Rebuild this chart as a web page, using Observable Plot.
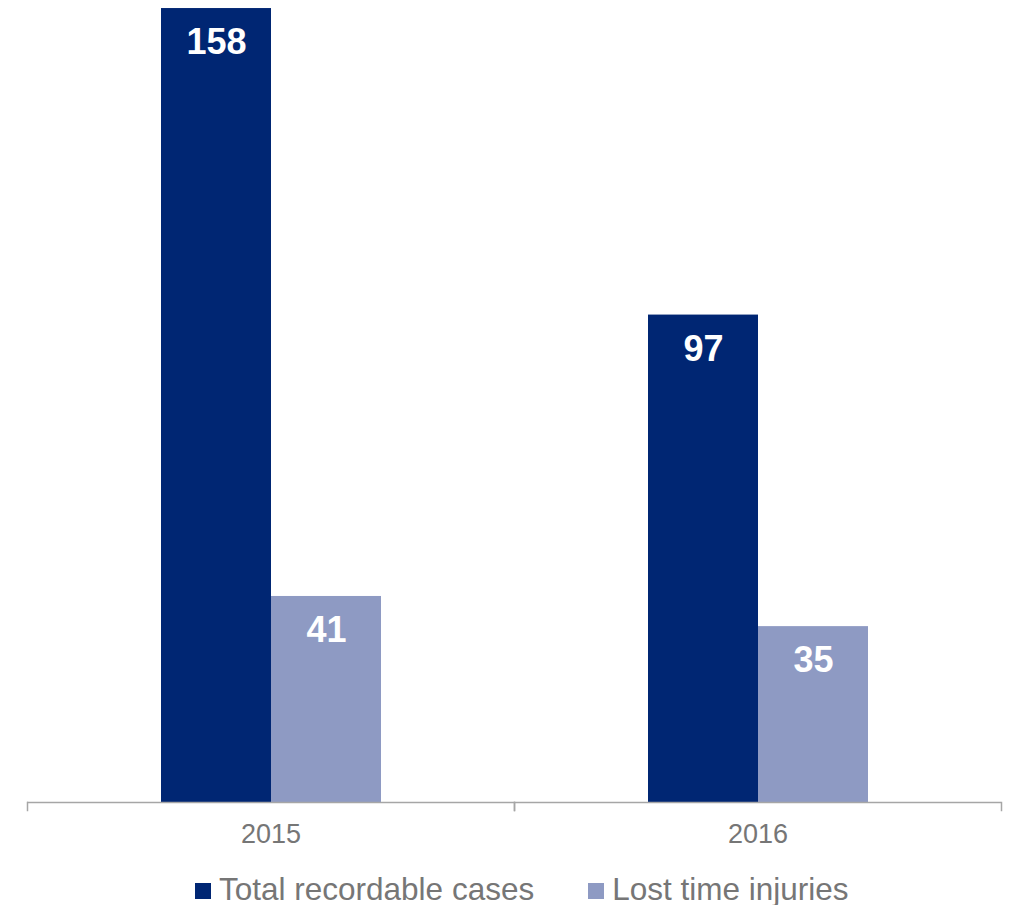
<!DOCTYPE html>
<html>
<head>
<meta charset="utf-8">
<script src="https://cdn.jsdelivr.net/npm/d3@7"></script>
<script src="https://cdn.jsdelivr.net/npm/@observablehq/plot@0.6"></script>
<style>
  body { margin: 0; background: #fff; font-family: "Liberation Sans", Arial, sans-serif; }
  #legend { display: flex; align-items: center; height: 31px; margin-top: 14px; padding-left: 195px;
            font-size: 31.5px; color: #767676; line-height: 31px; }
  .item { display: flex; align-items: center; }
  .sw { width: 16px; height: 16px; margin-right: 8px; position: relative; top: 1px; }
</style>
</head>
<body>
<div id="chart"></div>
<div id="legend"></div>
<script>
const years = ["2015", "2016"];
const series = ["Total recordable cases", "Lost time injuries"];
const totalRecordable = [158, 97];
const lostTime = [41, 35];
const colors = ["#002673", "#8E9AC3"];

const data = [];
years.forEach((y, i) => {
  data.push({year: y, series: series[0], value: totalRecordable[i]});
  data.push({year: y, series: series[1], value: lostTime[i]});
});

const W = 1015, H = 860, mB = 58, mT = 0;
const chart = Plot.plot({
  width: W, height: H,
  marginLeft: 26, marginRight: 14, marginTop: mT, marginBottom: mB,
  style: {fontFamily: "Liberation Sans, Arial, sans-serif", background: "#fff"},
  fx: {domain: years, padding: 0, label: null, axis: "bottom", tickSize: 0, tickPadding: 21},
  x: {domain: series, paddingInner: 0, paddingOuter: 1.196, axis: null},
  y: {domain: [0, 159.6], axis: null},
  color: {domain: series, range: colors},
  marks: [
    Plot.barY(data, {fx: "year", x: "series", y: "value", fill: "series"}),
    Plot.text(data, {fx: "year", x: "series", y: "value", text: d => String(d.value),
      dy: 34, fill: "white", fontWeight: "bold", fontSize: 36}),
    Plot.ruleY([0], {stroke: "#A6A6A6", strokeWidth: 1.5}),
    Plot.frame({anchor: "left", stroke: "#A6A6A6", strokeWidth: 1.5, insetTop: H - mB - mT, insetBottom: -8}),
    Plot.frame({anchor: "right", stroke: "#A6A6A6", strokeWidth: 1.5, insetTop: H - mB - mT, insetBottom: -8})
  ]
});
d3.select(chart).selectAll("g[aria-label='fx-axis tick label'] text, g[aria-label='fx-axis tick label']")
  .attr("font-size", 27).attr("fill", "#767676");
document.getElementById("chart").appendChild(chart);

const legend = d3.select("#legend");
series.forEach((s, i) => {
  const it = legend.append("div").attr("class", "item").style("margin-right", i === 0 ? "54px" : "0");
  it.append("div").attr("class", "sw").style("background", colors[i]);
  it.append("span").text(s);
});
</script>
</body>
</html>
